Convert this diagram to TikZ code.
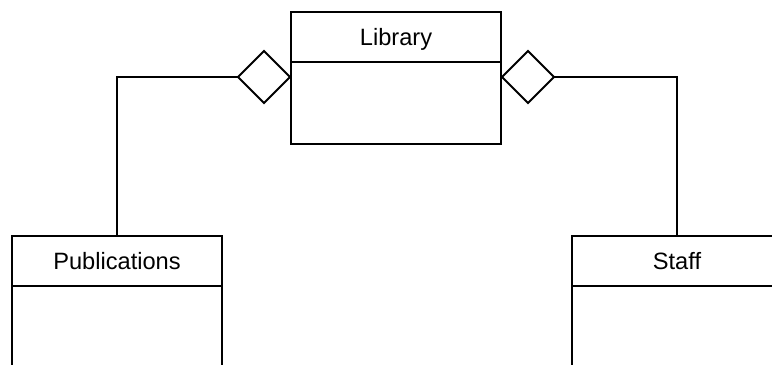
\documentclass[tikz,border=0pt]{standalone}
\usepackage{fontspec}
\setmainfont{Liberation Sans}
\usetikzlibrary{shapes.geometric,positioning}
\begin{document}
\begin{tikzpicture}[%
    x=0.025cm,y=-0.025cm,line width=1.4pt,
    every node/.style={%
      line width=1.4pt,inner sep=0pt,outer sep=0pt},
    classname/.style={draw,minimum width=5.25cm,minimum height=1.25cm,
      text height=11.8pt,text depth=0pt,font=\fontsize{16.8}{19}\selectfont},
    classbody/.style={draw,minimum width=5.25cm,minimum height=#1},
    aggr/.style={draw,diamond,fill=white,minimum width=1.3cm,minimum height=1.3cm}
    ]
    \useasboundingbox (0,0) rectangle (772,365);
    \clip (0,0) rectangle (772,365);
    % classes
    \node[classname] at(396,37)(lib){Library};
    \node[classbody=2.05cm,below=0pt of lib](libbody){};
    \node[classname] at(117,261)(pub){Publications};
    \node[classbody=3cm,below=0pt of pub](pubbody){};
    \node[classname] at(677,261)(staff){Staff};
    \node[classbody=3cm,below=0pt of staff](staffbody){};
    % aggregations
    \node[aggr] at(264,77)(aggl){};
    \node[aggr] at(528,77)(aggr){};
    \draw (aggl.west)-|(pub.north);
    \draw (aggr.east)-|(staff.north);
  \end{tikzpicture}
\end{document}
